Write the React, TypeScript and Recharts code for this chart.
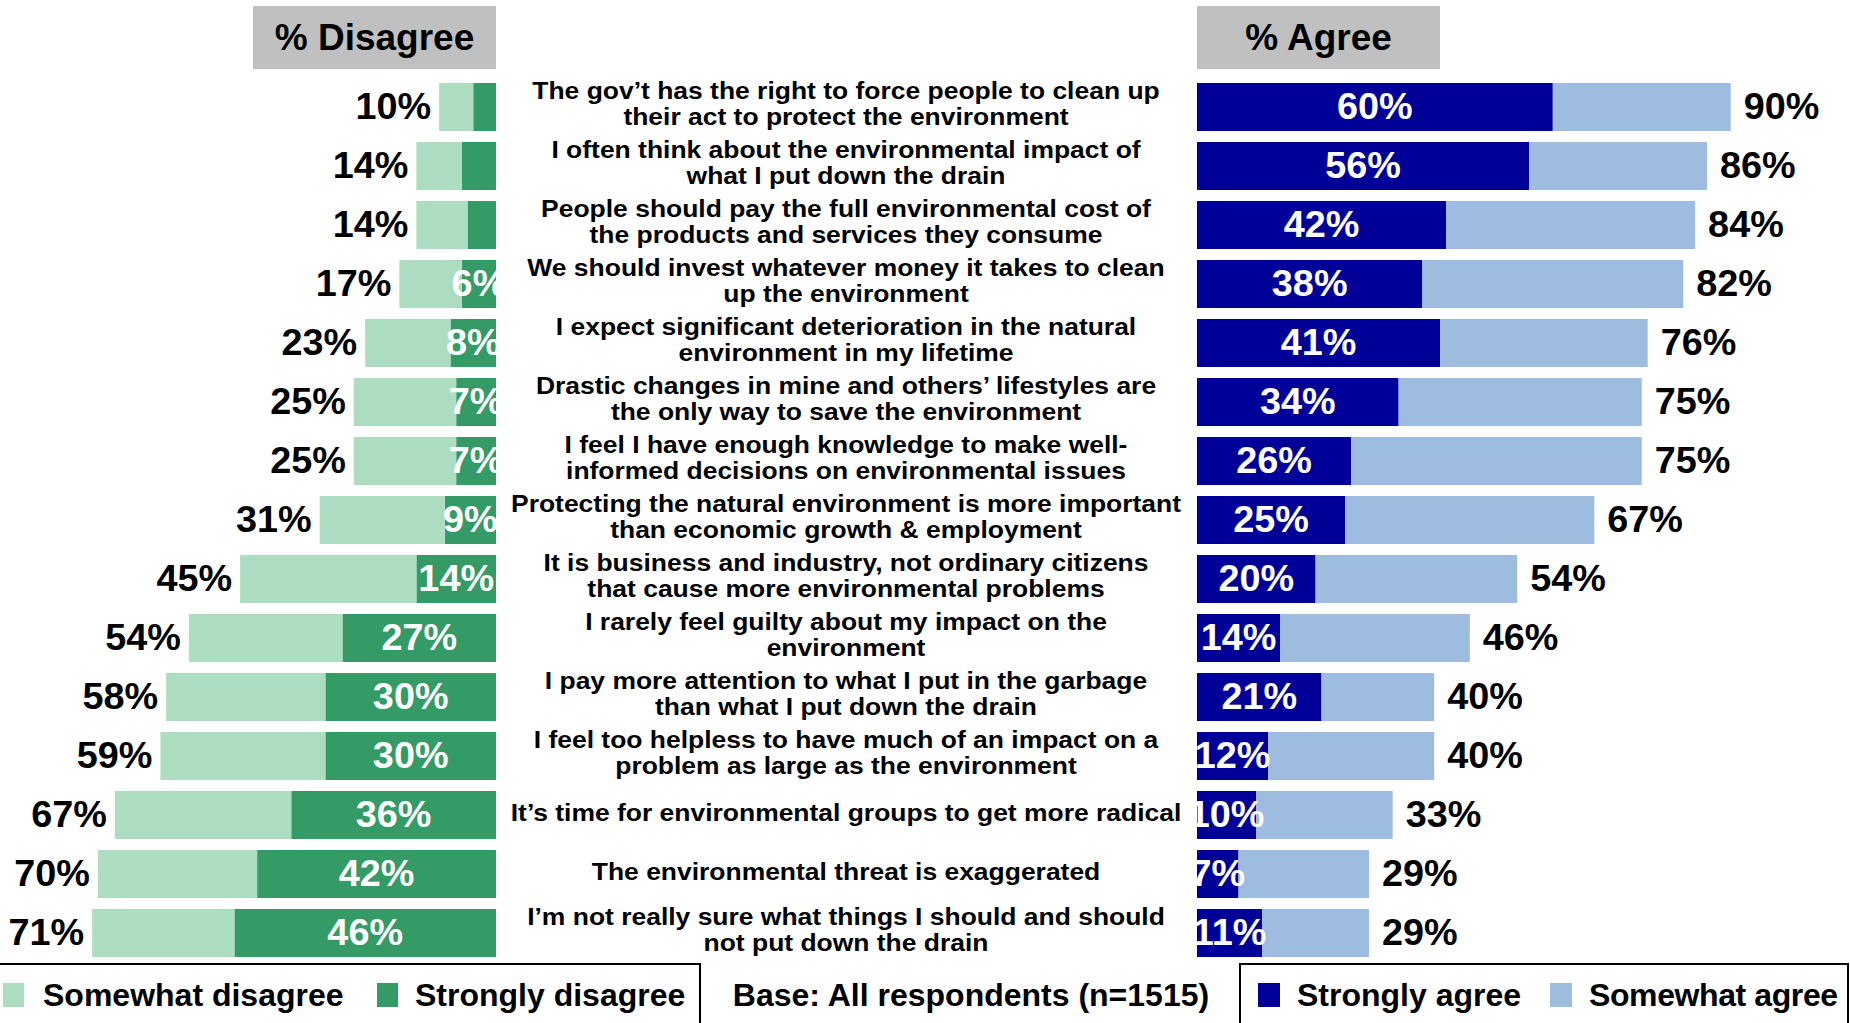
import React from 'react';
import { BarChart, Bar, XAxis, YAxis, LabelList } from 'recharts';

const categories = [
  'The gov’t has the right to force people to clean up\ntheir act to protect the environment',
  'I often think about the environmental impact of\nwhat I put down the drain',
  'People should pay the full environmental cost of\nthe products and services they consume',
  'We should invest whatever money it takes to clean\nup the environment',
  'I expect significant deterioration in the natural\nenvironment in my lifetime',
  'Drastic changes in mine and others’ lifestyles are\nthe only way to save the environment',
  'I feel I have enough knowledge to make well-\ninformed decisions on environmental issues',
  'Protecting the natural environment is more important\nthan economic growth & employment',
  'It is business and industry, not ordinary citizens\nthat cause more environmental problems',
  'I rarely feel guilty about my impact on the\nenvironment',
  'I pay more attention to what I put in the garbage\nthan what I put down the drain',
  'I feel too helpless to have much of an impact on a\nproblem as large as the environment',
  'It’s time for environmental groups to get more radical',
  'The environmental threat is exaggerated',
  'I’m not really sure what things I should and should\nnot put down the drain',
];

const strongDisagree = [4, 6, 5, 6, 8, 7, 7, 9, 14, 27, 30, 30, 36, 42, 46];
const somewhatDisagree = [6, 8, 9, 11, 15, 18, 18, 22, 31, 27, 28, 29, 31, 28, 25];
const disagreeTotal = [10, 14, 14, 17, 23, 25, 25, 31, 45, 54, 58, 59, 67, 70, 71];
const strongDisagreeShown = [false, false, false, true, true, true, true, true, true, true, true, true, true, true, true];

const strongAgree = [60, 56, 42, 38, 41, 34, 26, 25, 20, 14, 21, 12, 10, 7, 11];
const somewhatAgree = [30, 30, 42, 44, 35, 41, 49, 42, 34, 32, 19, 28, 23, 22, 18];
const agreeTotal = [90, 86, 84, 82, 76, 75, 75, 67, 54, 46, 40, 40, 33, 29, 29];

const headers = ['% Disagree', '% Agree'];
const leftLegend = ['Somewhat disagree', 'Strongly disagree'];
const rightLegend = ['Strongly agree', 'Somewhat agree'];
const baseNote = 'Base: All respondents (n=1515)';

const LIGHT_GREEN = '#ADDDC0';
const DARK_GREEN = '#349A66';
const NAVY = '#000099';
const LIGHT_BLUE = '#9EBBE0';
const GREY = '#C0C0C0';
const FONT = '"Liberation Sans", Arial, Helvetica, sans-serif';

const data = categories.map((cat, i) => ({
  cat,
  sd: strongDisagree[i],
  swd: somewhatDisagree[i],
  dt: disagreeTotal[i],
  sdl: strongDisagreeShown[i] ? strongDisagree[i] : null,
  sa: strongAgree[i],
  swa: somewhatAgree[i],
  at: agreeTotal[i],
}));

const LEFT_W = 1197;
const LEFT_AXIS_W = 701;
const LEFT_PLOT_R = LEFT_W - LEFT_AXIS_W;
const RIGHT_X = 1197;
const RIGHT_W = 653;
const LABEL_CX = 846;
const TOP = 77;
const BOTTOM = 61;
const VAL_FONT = 36;
const VAL_SX = 1.05;
const CAT_FONT = 24.5;
const CAT_SX = 1.08;

const rect = (p: any) => {
  const vb = p.viewBox || {};
  const x = vb.x ?? p.x;
  const y = vb.y ?? p.y;
  const w = vb.width ?? p.width;
  const h = vb.height ?? p.height;
  return { l: Math.min(x, x + w), r: Math.max(x, x + w), y, h };
};

const CatTick = (props: any) => {
  const { y, payload } = props;
  const lines = String(payload.value).split('\n');
  const offs = lines.length === 2 ? [-8, 18] : [6];
  return (
    <g>
      {lines.map((ln, k) => (
        <text
          key={k}
          transform={`translate(${LABEL_CX} ${y + offs[k]}) scale(${CAT_SX} 1)`}
          x={0}
          y={0}
          textAnchor="middle"
          fontFamily={FONT}
          fontWeight="bold"
          fontSize={CAT_FONT}
          fill="#000"
        >
          {ln}
        </text>
      ))}
    </g>
  );
};

const ValText = ({ x, y, anchor, color, children }: any) => (
  <text
    transform={`translate(${x} ${y}) scale(${VAL_SX} 1)`}
    x={0}
    y={0}
    textAnchor={anchor}
    dominantBaseline="central"
    fontFamily={FONT}
    fontWeight="bold"
    fontSize={VAL_FONT}
    fill={color}
  >
    {children}
  </text>
);

const leftTotalLabel = (p: any) => {
  const { l, y, h } = rect(p);
  return <ValText x={l - 8} y={y + h / 2} anchor="end" color="#000">{p.value}%</ValText>;
};

const leftInnerLabel = (p: any) => {
  if (p.value === null || p.value === undefined) return null;
  const { r, y, h } = rect(p);
  const cx = (r + LEFT_PLOT_R) / 2;
  const id = `clipL${p.index}`;
  return (
    <g>
      <defs>
        <clipPath id={id}>
          <rect x={0} y={y - 5} width={LEFT_PLOT_R} height={h + 10} />
        </clipPath>
      </defs>
      <g clipPath={`url(#${id})`}>
        <ValText x={cx} y={y + h / 2} anchor="middle" color="#fff">{p.value}%</ValText>
      </g>
    </g>
  );
};

const rightTotalLabel = (p: any) => {
  const { r, y, h } = rect(p);
  return <ValText x={r + 13} y={y + h / 2} anchor="start" color="#000">{p.value}%</ValText>;
};

const rightInnerLabel = (p: any) => {
  const { l, y, h } = rect(p);
  const cx = l / 2;
  const id = `clipR${p.index}`;
  return (
    <g>
      <defs>
        <clipPath id={id}>
          <rect x={0} y={y - 5} width={RIGHT_W} height={h + 10} />
        </clipPath>
      </defs>
      <g clipPath={`url(#${id})`}>
        <ValText x={cx} y={y + h / 2} anchor="middle" color="#fff">{p.value}%</ValText>
      </g>
    </g>
  );
};

const textStyle: React.CSSProperties = {
  position: 'absolute',
  fontFamily: FONT,
  fontWeight: 'bold',
  whiteSpace: 'nowrap',
  color: '#000',
};

export default function App() {
  return (
    <div style={{ position: 'absolute', left: 0, top: 0, width: 1850, height: 1023, overflow: 'hidden', background: '#fff' }}>
      {/* Headers */}
      <div style={{ ...textStyle, left: 253, top: 6, width: 243, height: 63, background: GREY, fontSize: 37, display: 'flex', alignItems: 'center', justifyContent: 'center' }}>
        {headers[0]}
      </div>
      <div style={{ ...textStyle, left: 1197, top: 6, width: 243, height: 63, background: GREY, fontSize: 37, display: 'flex', alignItems: 'center', justifyContent: 'center' }}>
        {headers[1]}
      </div>

      {/* Left chart */}
      <div style={{ position: 'absolute', left: 0, top: 0 }}>
        <BarChart width={LEFT_W} height={1023} data={data} layout="vertical"
          margin={{ top: TOP, right: 0, bottom: BOTTOM, left: 41 }} barSize={48}>
          <XAxis type="number" domain={[0, 80]} reversed hide allowDataOverflow />
          <YAxis type="category" dataKey="cat" orientation="right" width={LEFT_AXIS_W}
            axisLine={false} tickLine={false} interval={0} tick={<CatTick />} />
          <Bar dataKey="sd" stackId="d" fill={DARK_GREEN} isAnimationActive={false} />
          <Bar dataKey="swd" stackId="d" fill={LIGHT_GREEN} isAnimationActive={false}>
            <LabelList dataKey="dt" content={leftTotalLabel} />
            <LabelList dataKey="sdl" content={leftInnerLabel} />
          </Bar>
        </BarChart>
      </div>

      {/* Right chart */}
      <div style={{ position: 'absolute', left: RIGHT_X, top: 0 }}>
        <BarChart width={RIGHT_W} height={1023} data={data} layout="vertical"
          margin={{ top: TOP, right: 60, bottom: BOTTOM, left: 0 }} barSize={48}>
          <XAxis type="number" domain={[0, 100]} hide allowDataOverflow />
          <YAxis type="category" dataKey="cat" hide />
          <Bar dataKey="sa" stackId="a" fill={NAVY} isAnimationActive={false} />
          <Bar dataKey="swa" stackId="a" fill={LIGHT_BLUE} isAnimationActive={false}>
            <LabelList dataKey="at" content={rightTotalLabel} />
            <LabelList dataKey="sa" content={rightInnerLabel} />
          </Bar>
        </BarChart>
      </div>

      {/* Left legend */}
      <div style={{ position: 'absolute', left: -2, top: 963, width: 703, height: 80, border: '2px solid #000', boxSizing: 'border-box' }} />
      <div style={{ position: 'absolute', left: 3, top: 983, width: 21, height: 24, background: LIGHT_GREEN }} />
      <div style={{ ...textStyle, left: 43, top: 975, height: 40, lineHeight: '40px', fontSize: 32 }}>{leftLegend[0]}</div>
      <div style={{ position: 'absolute', left: 377, top: 983, width: 21, height: 24, background: DARK_GREEN }} />
      <div style={{ ...textStyle, left: 415, top: 975, height: 40, lineHeight: '40px', fontSize: 32 }}>{leftLegend[1]}</div>

      {/* Base note */}
      <div style={{ ...textStyle, left: 702, width: 538, top: 975, height: 40, lineHeight: '40px', fontSize: 32, textAlign: 'center' }}>{baseNote}</div>

      {/* Right legend */}
      <div style={{ position: 'absolute', left: 1239, top: 963, width: 610, height: 80, border: '2px solid #000', boxSizing: 'border-box' }} />
      <div style={{ position: 'absolute', left: 1258, top: 983, width: 22, height: 24, background: NAVY }} />
      <div style={{ ...textStyle, left: 1297, top: 975, height: 40, lineHeight: '40px', fontSize: 32 }}>{rightLegend[0]}</div>
      <div style={{ position: 'absolute', left: 1550, top: 983, width: 22, height: 24, background: LIGHT_BLUE }} />
      <div style={{ ...textStyle, left: 1589, top: 975, height: 40, lineHeight: '40px', fontSize: 32, letterSpacing: '-0.4px' }}>{rightLegend[1]}</div>
    </div>
  );
}
